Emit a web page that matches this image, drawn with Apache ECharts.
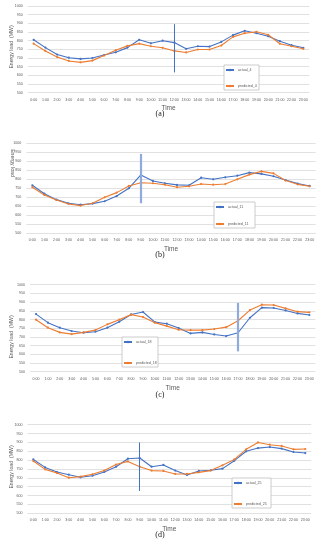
<!DOCTYPE html>
<html><head><meta charset="utf-8">
<script src="https://cdn.jsdelivr.net/npm/echarts@6/dist/echarts.min.js"></script>
<style>html,body{margin:0;padding:0;background:#fff}#c{width:320px;height:550px}</style>
</head><body><div id="c"></div>
<script>
const hours = ['0:00','1:00','2:00','3:00','4:00','5:00','6:00','7:00','8:00','9:00','10:00','11:00','12:00','13:00','14:00','15:00','16:00','17:00','18:00','19:00','20:00','21:00','22:00','23:00'];
const yTicks = [500,550,600,650,700,750,800,850,900,950,1000];

const actual_4 = [805,760,720,702,695,700,717,733,760,805,785,800,789,753,768,766,793,832,857,843,826,797,774,759];
const predicted_4 = [783,740,706,683,675,685,714,745,770,783,768,759,741,732,749,749,772,822,843,851,834,782,768,753];
const actual_11 = [767,720,687,667,659,665,678,707,750,824,791,778,769,767,809,800,811,820,837,830,817,796,776,763];
const predicted_11 = [756,713,685,663,654,667,700,726,763,781,778,770,756,761,774,770,774,800,826,844,833,793,772,761];
const actual_18 = [831,782,753,734,724,730,753,787,829,843,785,776,751,720,726,714,705,724,810,868,866,852,835,826];
const predicted_18 = [799,753,726,716,726,739,772,799,828,814,782,762,741,739,739,745,756,793,854,885,883,864,845,841];
const actual_25 = [804,759,733,718,703,712,733,763,808,812,763,773,741,716,739,743,752,797,850,868,874,865,846,840];
const predicted_25 = [795,748,727,701,707,720,741,775,793,763,741,739,722,722,731,741,771,804,861,900,887,880,861,863];

const panels = [
  {cap:'(a)', a:actual_4, p:predicted_4, an:'actual_4', pn:'predicted_4', vx:'12:00', vy:[895,617], vc:'#4472C4', vw:1,
   grid:{left:27.8, right:10.8, top:6, height:86.7}, leg:{left:224, top:65, width:35, height:25},
   yname:'Energy load  (MW)', ynx:12, yny:47, yrot:Math.PI/2, cap_y:114, timeGap:12},
  {cap:'(b)', a:actual_11, p:predicted_11, an:'actual_11', pn:'predicted_11', vx:'9:00', vy:[941,667], vc:'#8FAADC', vw:2.2,
   grid:{left:26.3, right:4.3, top:143.3, height:90}, leg:{left:214, top:202, width:41, height:26},
   yname:'Energy load', ynx:12, yny:163, yrot:-Math.PI/2, cap_y:255, timeGap:12},
  {cap:'(c)', a:actual_18, p:predicted_18, an:'actual_18', pn:'predicted_18', vx:'17:00', vy:[895,617], vc:'#8FAADC', vw:2.2,
   grid:{left:30.1, right:4.7, top:284.7, height:87}, leg:{left:122, top:337, width:36, height:30},
   yname:'Energy load  (MW)', ynx:12, yny:337, yrot:Math.PI/2, cap_y:395, timeGap:13},
  {cap:'(d)', a:actual_25, p:predicted_25, an:'actual_25', pn:'predicted_25', vx:'9:00', vy:[900,626], vc:'#4472C4', vw:1,
   grid:{left:27.4, right:8.8, top:424.7, height:88.6}, leg:{left:232, top:478, width:39, height:30},
   yname:'Energy load  (MW)', ynx:12, yny:467, yrot:Math.PI/2, cap_y:535, timeGap:12}
];

const BLUE = '#4472C4', ORANGE = '#ED7D31';
const option = {animation:false, backgroundColor:'#fff', grid:[], xAxis:[], yAxis:[], series:[], graphic:[]};
panels.forEach((P, i) => {
  option.grid.push(Object.assign({containLabel:false}, P.grid));
  option.xAxis.push({type:'category', gridIndex:i, data:hours, boundaryGap:true,
    name:'Time', nameLocation:'middle', nameGap:P.timeGap, nameTextStyle:{fontSize:6.5, color:'#595959', fontFamily:'Liberation Sans'},
    axisLine:{show:false}, axisTick:{show:false},
    axisLabel:{fontSize:3.6, color:'#595959', margin:5, interval:0, fontFamily:'Liberation Sans'}});
  option.yAxis.push({type:'value', gridIndex:i, min:yTicks[0], max:yTicks[yTicks.length-1], interval:yTicks[1]-yTicks[0],
    axisLine:{show:false}, axisTick:{show:false},
    splitLine:{lineStyle:{color:'#d9d9d9', width:0.8}},
    axisLabel:{fontSize:3.6, color:'#595959', margin:5, fontFamily:'Liberation Sans', formatter:(v)=>String(v)}});
  option.series.push({type:'line', name:P.an, xAxisIndex:i, yAxisIndex:i, data:P.a,
    symbol:'circle', symbolSize:2.2, lineStyle:{color:BLUE, width:1.1}, itemStyle:{color:BLUE},
    markLine:{silent:true, symbol:['none','none'], label:{show:false},
      lineStyle:{color:P.vc, width:P.vw, type:'solid'},
      data:[[{coord:[P.vx, P.vy[0]]},{coord:[P.vx, P.vy[1]]}]]}});
  option.series.push({type:'line', name:P.pn, xAxisIndex:i, yAxisIndex:i, data:P.p,
    symbol:'circle', symbolSize:2.2, lineStyle:{color:ORANGE, width:1.1}, itemStyle:{color:ORANGE}});
  option.graphic.push({type:'text', x:P.ynx, y:P.yny, rotation:P.yrot,
    style:{text:P.yname, fontSize:5.2, fill:'#595959', fontFamily:'Liberation Sans', align:'center', verticalAlign:'middle'}});
  option.graphic.push({type:'text', x:160, y:P.cap_y,
    style:{text:P.cap, fontSize:8, fill:'#222', fontFamily:'Liberation Serif', align:'center', verticalAlign:'middle'}});
  option.graphic.push({type:'rect', shape:{x:P.leg.left, y:P.leg.top, width:P.leg.width, height:P.leg.height},
    style:{fill:'#fff', stroke:'#bfbfbf', lineWidth:0.8}, z:5});
});
option.legend = panels.map((P) => ({
  data:[P.an, P.pn], orient:'vertical', left:P.leg.left+1, top:P.leg.top+3,
  itemGap:P.leg.height-13, itemWidth:8, itemHeight:3, padding:0, z:10,
  textStyle:{fontSize:3.6, color:'#595959', fontFamily:'Liberation Sans', padding:[0,0,0,-1]}
}));
const chart = echarts.init(document.getElementById('c'), null, {renderer:'canvas'});
chart.setOption(option);
</script></body></html>
